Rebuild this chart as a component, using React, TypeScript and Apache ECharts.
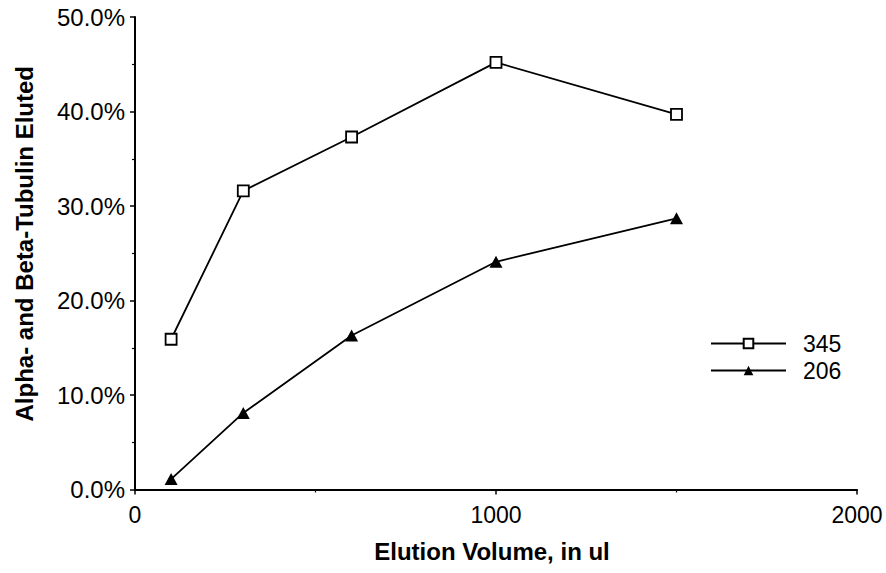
import React, { useEffect, useRef } from "react";
import * as echarts from "echarts";

const volumes = [100, 300, 600, 1000, 1500];
const series345 = [15.9, 31.6, 37.3, 45.2, 39.7];
const series206 = [1.1, 8.1, 16.3, 24.1, 28.7];
const seriesNames = ["345", "206"];
const xTitle = "Elution Volume, in ul";
const yTitle = "Alpha- and Beta-Tubulin Eluted";

const FONT = "'Liberation Sans', Arial, Helvetica, sans-serif";

export default function App() {
  const ref = useRef<HTMLDivElement>(null);
  useEffect(() => {
    if (!ref.current) return;
    const chart = echarts.init(ref.current, undefined, { renderer: "svg" });
    const pair = (vals: number[]) => volumes.map((v, i) => [v, vals[i]]);
    chart.setOption({
      animation: false,
      backgroundColor: "#ffffff",
      textStyle: { fontFamily: FONT, color: "#000" },
      grid: { left: 135, right: 29, top: 17, bottom: 83.5 },
      legend: {
        orient: "vertical",
        left: 705,
        top: 327,
        itemWidth: 75,
        itemHeight: 12,
        itemGap: 4,
        textStyle: { fontSize: 23, color: "#000", fontFamily: FONT, lineHeight: 23, padding: [0, 0, 0, 12] },
        data: seriesNames,
      },
      xAxis: {
        type: "value",
        min: 0,
        max: 2000,
        interval: 1000,
        name: xTitle,
        nameLocation: "middle",
        nameGap: 50,
        nameTextStyle: { fontSize: 24, fontWeight: "bold", color: "#000", fontFamily: FONT, padding: [0, 8, 0, 0] },
        axisLine: { lineStyle: { color: "#000", width: 2 } },
        axisTick: { length: 5, lineStyle: { color: "#000", width: 1.5 } },
        minorTick: { show: true, splitNumber: 2, length: 3, lineStyle: { color: "#000", width: 1.2 } },
        axisLabel: {
          fontSize: 23,
          color: "#000",
          margin: 14,
          fontFamily: FONT,
          formatter: (v: number) => String(v),
        },
        splitLine: { show: false },
      },
      yAxis: {
        type: "value",
        min: 0,
        max: 50,
        interval: 10,
        name: yTitle,
        nameLocation: "middle",
        nameGap: 99,
        nameRotate: 90,
        nameTextStyle: { fontSize: 24, fontWeight: "bold", color: "#000", fontFamily: FONT, padding: [0, 0, 0, 19] },
        axisLine: { show: true, lineStyle: { color: "#000", width: 2 } },
        axisTick: { show: true, length: 5, lineStyle: { color: "#000", width: 1.5 } },
        minorTick: { show: true, splitNumber: 2, length: 3, lineStyle: { color: "#000", width: 1.2 } },
        axisLabel: {
          fontSize: 24,
          color: "#000",
          margin: 10,
          fontFamily: FONT,
          formatter: (v: number) => v.toFixed(1) + "%",
        },
        splitLine: { show: false },
      },
      series: [
        {
          name: seriesNames[0],
          type: "line",
          data: pair(series345),
          symbol: "rect",
          symbolSize: 11,
          lineStyle: { color: "#000", width: 1.8 },
          itemStyle: { color: "#fff", borderColor: "#000", borderWidth: 1.8 },
          z: 3,
        },
        {
          name: seriesNames[1],
          type: "line",
          data: pair(series206),
          symbol: "triangle",
          symbolSize: [13, 12],
          lineStyle: { color: "#000", width: 1.8 },
          itemStyle: { color: "#000", borderColor: "#000", borderWidth: 0 },
          z: 3,
        },
      ],
    });
    return () => chart.dispose();
  }, []);
  return <div ref={ref} style={{ width: 886, height: 573, position: "absolute", left: 0, top: 0 }} />;
}
